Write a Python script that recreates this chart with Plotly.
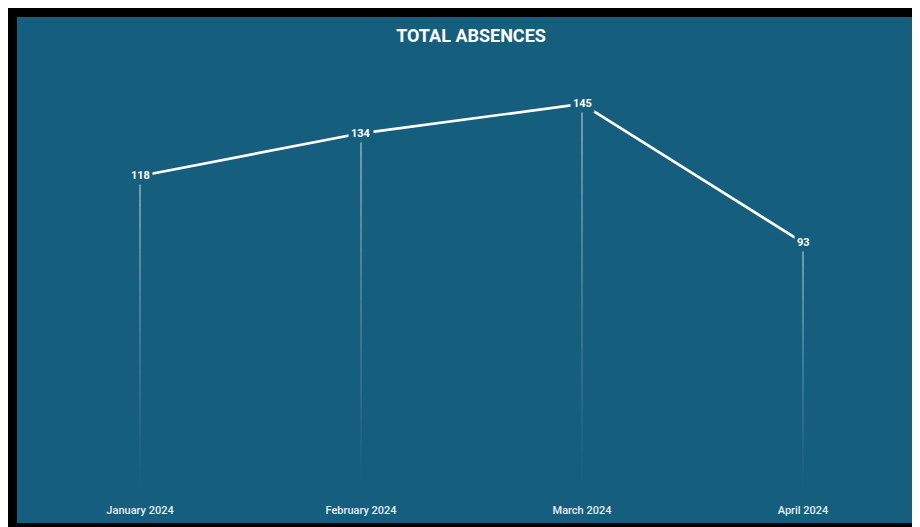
import plotly.graph_objects as go

months = ["January 2024", "February 2024", "March 2024", "April 2024"]
absences = [118, 134, 145, 93]
title_text = "TOTAL ABSENCES"

TEAL = "#165e7e"
W, H = 920, 527
ML, MR, MT, MB = 9, 0, 9, 33
PW = W - ML - MR
PH = H - MT - MB


def px_x(p):
    return (p - ML) / PW


def px_y(p):
    return (H - MB - p) / PH


fig = go.Figure()

# fading drop lines from each point down to zero
N = 30
for m, v in zip(months, absences):
    for k in range(N):
        y_top = v * (1 - k / N)
        y_bot = v * (1 - (k + 1) / N)
        op = 0.8 * (1 - k / N) ** 1.2
        fig.add_trace(go.Scatter(
            x=[m, m], y=[y_top, y_bot], mode="lines",
            line=dict(color="rgba(255,255,255,%.3f)" % op, width=1),
            hoverinfo="skip", showlegend=False))

fig.add_trace(go.Scatter(
    x=months, y=absences, mode="lines",
    line=dict(color="white", width=2.7),
    showlegend=False, hoverinfo="x+y"))

for m, v in zip(months, absences):
    fig.add_annotation(
        x=m, y=v, xref="x", yref="y", text="<b>%d</b>" % v,
        showarrow=False, font=dict(family="Roboto", size=11, color="white"),
        bgcolor=TEAL, borderpad=2)

# black frame (left, top, bottom)
for x0, x1, y0, y1 in [(0, 9, 0, 540), (0, 940, 0, 9), (0, 940, 515, 540)]:
    fig.add_shape(type="rect", xref="paper", yref="paper",
                  x0=px_x(x0), x1=px_x(x1), y0=px_y(y1), y1=px_y(y0),
                  fillcolor="black", line=dict(width=0), layer="below")

fig.update_layout(
    width=W, height=H,
    margin=dict(l=ML, r=MR, t=MT, b=MB),
    paper_bgcolor=TEAL, plot_bgcolor="rgba(0,0,0,0)",
    title=dict(text="<b>%s</b>" % title_text, x=px_x(463), xref="paper",
               y=1 - 28 / H, yanchor="middle", xanchor="center",
               font=dict(family="Roboto", size=18, color="white")),
    xaxis=dict(type="category", range=[(ML - 132) / 221, (W - 132) / 221],
               showgrid=False, zeroline=False, showline=False, ticks="",
               tickfont=dict(family="Roboto", size=11, color="#e6edf1",
                             weight=500)),
    yaxis=dict(range=[-4.24, 177.6], visible=False, showgrid=False,
               zeroline=False),
)

fig.write_html("out.html")
